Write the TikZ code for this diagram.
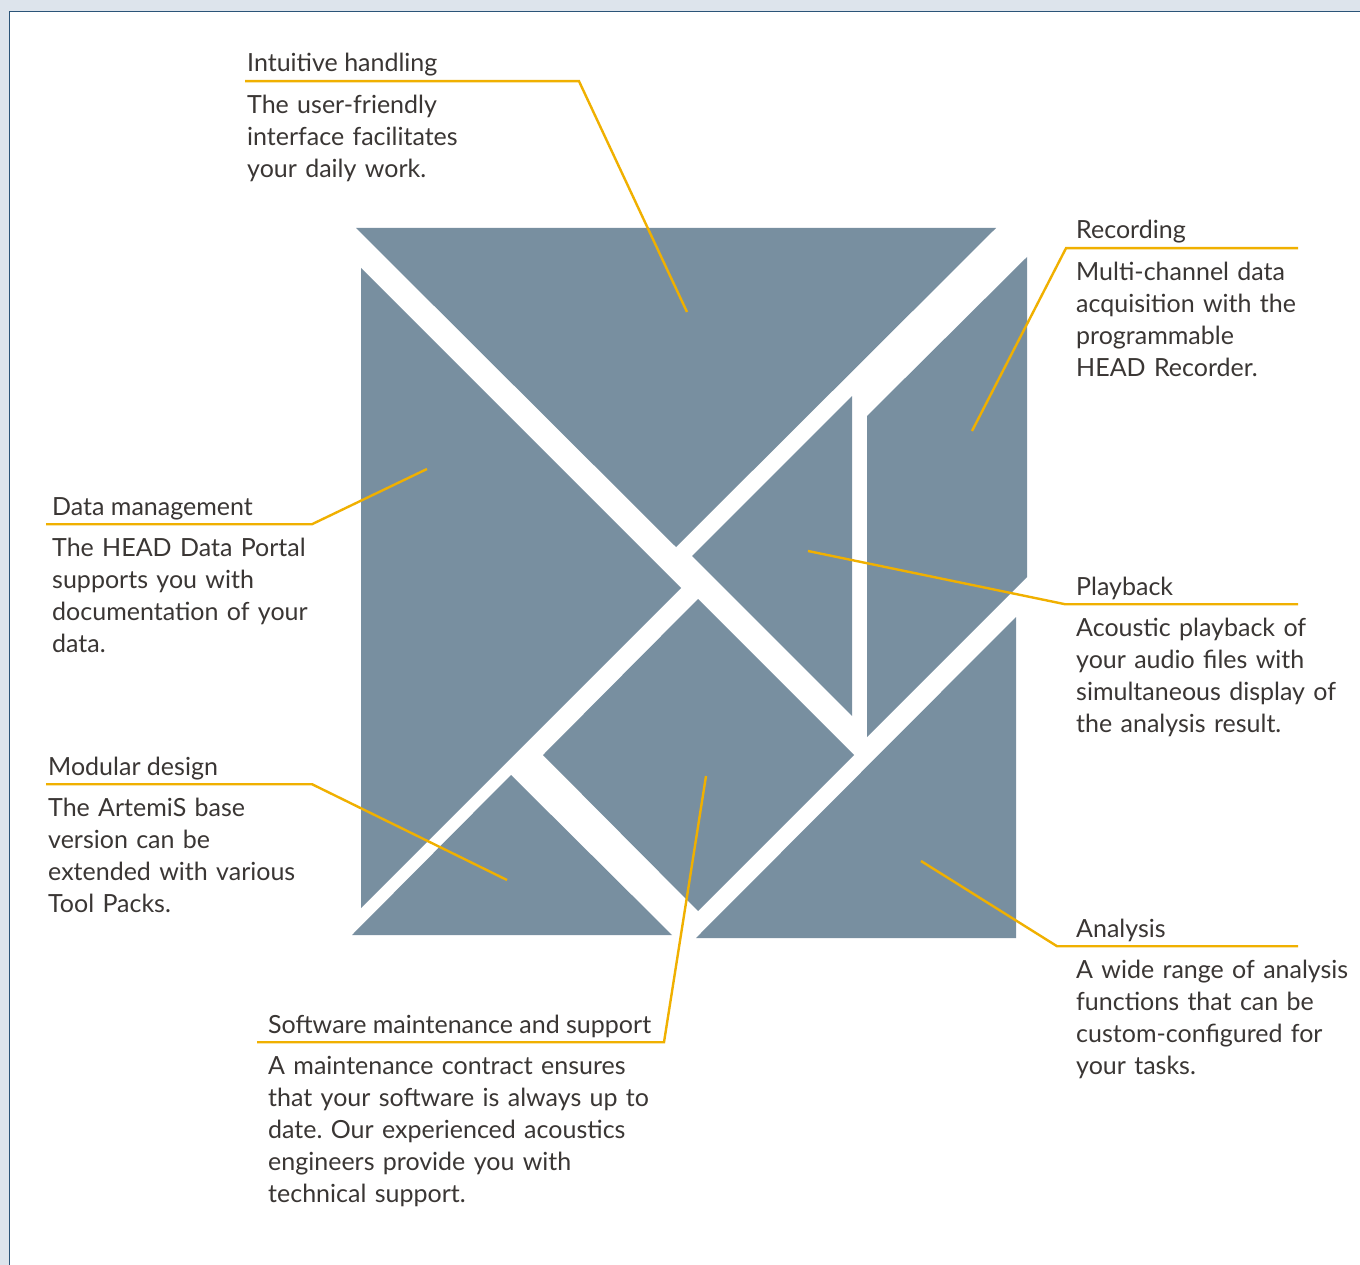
\documentclass[tikz,border=0pt]{standalone}
\usepackage{fontspec}
\setmainfont{Lato}
\frenchspacing
\usetikzlibrary{positioning}
\definecolor{tangram}{RGB}{120,143,160}
\definecolor{leadline}{RGB}{240,176,0}
\definecolor{inktext}{RGB}{58,54,52}
\definecolor{pagebg}{RGB}{221,228,236}
\definecolor{pageedge}{RGB}{43,84,120}
\tikzset{
  piece/.style={fill=tangram},
  leader/.style={draw=leadline, line width=2.4pt},
  heading/.style={font=\fontsize{25}{32}\selectfont, text=inktext, inner sep=0pt, anchor=base west, text depth=9pt},
  blurb/.style={font=\fontsize{25}{32}\selectfont, text=inktext, inner sep=0pt, text width=420pt, align=left},
}
\begin{document}
\begin{tikzpicture}[x=1pt,y=-1pt]
  \useasboundingbox (0,0) rectangle (1360,1265);
  \fill[pagebg] (0,0) rectangle (1360,1265);
  \fill[white] (9.5,11.5) rectangle (1360,1265);
  \draw[pageedge, line width=1.5pt] (9.5,1265) -- (9.5,11.5) -- (1360,11.5);
  % the seven pieces
  \fill[piece] (356,228) -- (996,228) -- (676,547) -- cycle;
  \fill[piece] (361,268) -- (361,908) -- (681,588) -- cycle;
  \fill[piece] (1027,257) -- (867,416) -- (867,737) -- (1027,577) -- cycle;
  \fill[piece] (852,396) -- (852,716) -- (692,556) -- cycle;
  \fill[piece] (698,599) -- (854,755) -- (698,911) -- (543,755) -- cycle;
  \fill[piece] (352,935) -- (672,935) -- (511,775) -- cycle;
  \fill[piece] (696,938) -- (1016,938) -- (1016,617) -- cycle;
  % where the leaders end
  \coordinate (handling-pin) at (687,312);
  \coordinate (recording-pin) at (972,431);
  \coordinate (data-pin) at (427,469);
  \coordinate (playback-pin) at (808,551);
  \coordinate (modular-pin) at (507,880);
  \coordinate (support-pin) at (706,776);
  \coordinate (analysis-pin) at (921,861);
  % headings
  \node[heading] (handling) at (247,72) {Intuitive handling};
  \node[heading] (recording) at (1076,239) {Recording};
  \node[heading] (data) at (52,515) {Data management};
  \node[heading] (playback) at (1076,595) {Playback};
  \node[heading] (modular) at (48,775) {Modular design};
  \node[heading] (support) at (268,1033) {Software maintenance and support};
  \node[heading] (analysis) at (1076,937) {Analysis};
  % texts
  \node[blurb, below=9.6pt of handling.south west, anchor=north west] (handling-text)
    {\strut The user-friendly\\interface facilitates\\your daily work.};
  \node[blurb, below=9.6pt of recording.south west, anchor=north west] (recording-text)
    {\strut Multi-channel data\\acquisition with the\\programmable\\HEAD Recorder.};
  \node[blurb, below=9.6pt of data.south west, anchor=north west] (data-text)
    {\strut The HEAD Data Portal\\supports you with\\documentation of your\\data.};
  \node[blurb, below=9.6pt of playback.south west, anchor=north west] (playback-text)
    {\strut Acoustic playback of\\your audio files with\\simultaneous display of\\the analysis result.};
  \node[blurb, below=9.6pt of modular.south west, anchor=north west] (modular-text)
    {\strut The ArtemiS base\\version can be\\extended with various\\Tool Packs.};
  \node[blurb, below=9.6pt of support.south west, anchor=north west] (support-text)
    {\strut A maintenance contract ensures\\that your software is always up to\\date. Our experienced acoustics\\engineers provide you with\\technical support.};
  \node[blurb, below=9.6pt of analysis.south west, anchor=north west] (analysis-text)
    {\strut A wide range of analysis\\functions that can be\\custom-configured for\\your tasks.};
  % leaders
  \draw[leader] ([xshift=-2pt]handling.south west) -- ++(334,0) -- (handling-pin);
  \draw[leader] (recording-pin) -- ([xshift=-10pt]recording.south west) -- ++(232,0);
  \draw[leader] ([xshift=-6pt]data.south west) -- ++(266,0) -- (data-pin);
  \draw[leader] (playback-pin) -- ([xshift=-11pt]playback.south west) -- ++(233,0);
  \draw[leader] ([xshift=-2pt]modular.south west) -- ++(266,0) -- (modular-pin);
  \draw[leader] ([xshift=-11pt]support.south west) -- ++(407,0) -- (support-pin);
  \draw[leader] (analysis-pin) -- ([xshift=-19pt]analysis.south west) -- ++(241,0);
\end{tikzpicture}
\end{document}
